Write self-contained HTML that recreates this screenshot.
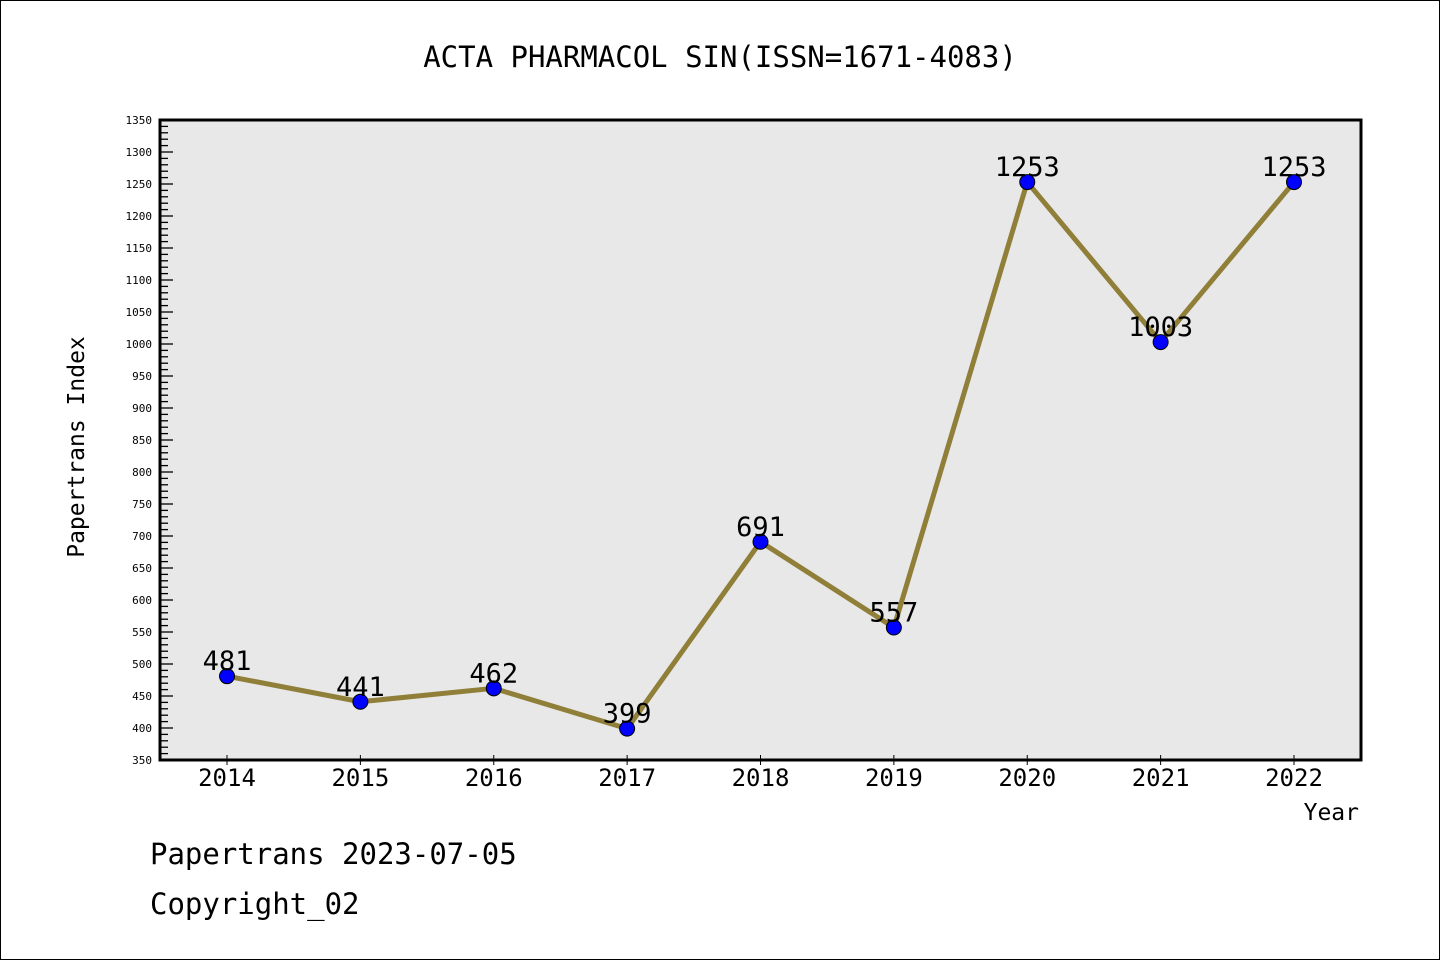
<!DOCTYPE html>
<html><head><meta charset="utf-8"><style>
html,body{margin:0;padding:0;background:#fff}
svg{display:block}
text{font-family:"DejaVu Sans Mono","Liberation Mono",monospace}
</style></head><body>
<svg width="1440" height="960" xmlns="http://www.w3.org/2000/svg">
<rect x="0.5" y="0.5" width="1439" height="959" fill="#fff" stroke="#000"/>
<text x="720" y="67" text-anchor="middle" font-size="29">ACTA PHARMACOL SIN(ISSN=1671-4083)</text>
<rect x="160" y="120" width="1201" height="640" fill="#e8e8e8"/>
<g id="yaxis"></g>
<g id="xaxis"></g>
<g id="series"></g>
<rect x="160" y="120" width="1201" height="640" fill="none" stroke="#000" stroke-width="3"/>
<text transform="translate(84,447) rotate(-90)" text-anchor="middle" font-size="23">Papertrans Index</text>
<text x="1359" y="820" text-anchor="end" font-size="23">Year</text>
<text x="150" y="864" font-size="29">Papertrans 2023-07-05</text>
<text x="150" y="914" font-size="29">Copyright_02</text>
</svg>
<script>
const years = ["2014","2015","2016","2017","2018","2019","2020","2021","2022"];
const values = [481,441,462,399,691,557,1253,1003,1253];
const labels = ["481","441","462","399","691","557","1253","1003","1253"];
const yMin = 350, yMax = 1350, yStep = 50;
const NS="http://www.w3.org/2000/svg";
const X0=160,X1=1361,Y0=760,Y1=120;
function ys(v){return Y0-(v-yMin)/(yMax-yMin)*(Y0-Y1);}
function xs(i){return 227+i*(1294-227)/(years.length-1);}
function mk(tag,attrs,parent){const e=document.createElementNS(NS,tag);for(const k in attrs)e.setAttribute(k,attrs[k]);parent.appendChild(e);return e;}
const ya=document.getElementById('yaxis'),xa=document.getElementById('xaxis'),sg=document.getElementById('series');
for(let v=yMin;v<=yMax;v+=10){
  const major=(v%yStep===0);
  const t=mk('line',{x1:X0,x2:X0+(major?13:8),y1:ys(v),y2:ys(v),stroke:'#000','stroke-width':1.3},ya);
  
  
  if(major){
    const l=mk('text',{x:152,y:ys(v)+4,'text-anchor':'end','font-size':11,'font-family':'DejaVu Sans,sans-serif'},ya);
    
    
    l.textContent=v;
  }
}
years.forEach((y,i)=>{
  const t=mk('line',{x1:xs(i),x2:xs(i),y1:Y0-5,y2:Y0+5,stroke:'#000','stroke-width':1},xa);
  
  
  const l=mk('text',{x:xs(i),y:786,'text-anchor':'middle','font-size':24,'font-family':'DejaVu Sans,sans-serif'},xa);
  
  
  l.textContent=y;
});
const pl=mk('polyline',{points:values.map((v,i)=>xs(i)+','+ys(v)).join(' '),fill:'none',stroke:'#907f38','stroke-width':5,'stroke-linejoin':'round'},sg);


values.forEach((v,i)=>{
  const c=mk('circle',{cx:xs(i),cy:ys(v),r:7.5,fill:'#0000ff',stroke:'#000','stroke-width':1},sg);
  
  
  const l=mk('text',{x:xs(i),y:ys(v)-6,'text-anchor':'middle','font-size':27,'font-family':'DejaVu Sans,sans-serif'},sg);
  
  
  l.textContent=labels[i];
});
</script>
</body></html>
